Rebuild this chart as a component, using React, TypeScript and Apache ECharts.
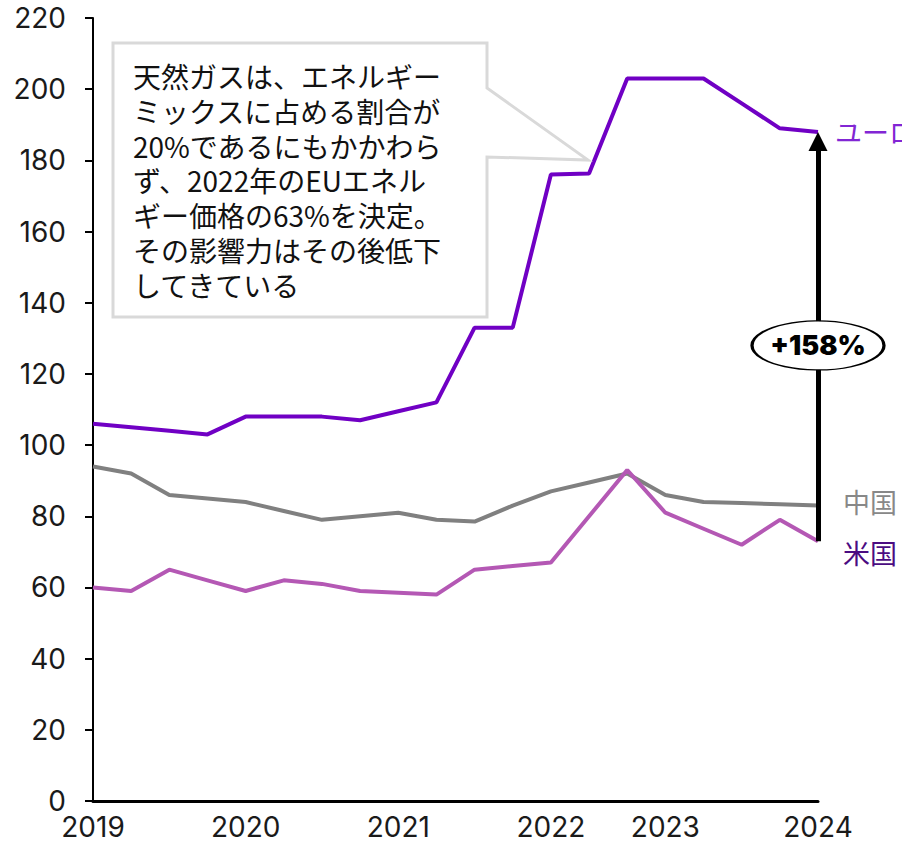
import React, { useEffect, useRef } from "react";
import * as echarts from "echarts";

// x categories (quarterly points); tick labels as drawn in the reference
const categories = ["2019", "", "", "", "2020", "", "", "", "2021", "", "", "", "2022", "", "", "2023", "", "", "", "2024"];
const euroValues = [106, 105, 104, 103, 108, 108, 108, 107, 109.5, 112, 133, 133, 176, 176.3, 203, 203, 203, 196, 189, 188];
const chinaValues = [94, 92, 86, 85, 84, 81.5, 79, 80, 81, 79, 78.5, 83, 87, 89.5, 92, 86, 84, 83.7, 83.4, 83];
const usValues = [60, 59, 65, 62, 59, 62, 61, 59, 58.5, 58, 65, 66, 67, 80, 93, 81, 76.5, 72, 79, 73];
const seriesNames = ["ユーロ圏", "中国", "米国"];
const badgeY = 128;
const calloutLines = [
  "天然ガスは、エネルギー",
  "ミックスに占める割合が",
  "20%であるにもかかわら",
  "ず、2022年のEUエネル",
  "ギー価格の63%を決定。",
  "その影響力はその後低下",
  "してきている",
];

const NUM_FONT = "Inter, 'Noto Sans', sans-serif";
const JP_FONT = "'Noto Sans CJK JP', 'Noto Sans', sans-serif";

export default function App() {
  const ref = useRef<HTMLDivElement>(null);
  useEffect(() => {
    if (!ref.current) return;
    const chart = echarts.init(ref.current, undefined, { renderer: "svg" });
    const last = categories.length - 1;
    const pct = Math.round(((euroValues[last] - usValues[last]) / usValues[last]) * 100);
    chart.setOption({
      animation: false,
      backgroundColor: "#ffffff",
      grid: { left: 93, right: 84, top: 18, bottom: 42 },
      xAxis: {
        type: "category",
        data: categories,
        boundaryGap: false,
        axisLine: { show: true, lineStyle: { color: "#000", width: 3 } },
        axisTick: { show: false },
        axisLabel: {
          interval: 0,
          margin: 12,
          fontSize: 28,
          fontFamily: NUM_FONT,
          color: "#1a1a1a",
        },
        splitLine: { show: false },
      },
      yAxis: {
        type: "value",
        min: 0,
        max: 220,
        interval: 20,
        axisLine: { show: true, lineStyle: { color: "#000", width: 2 } },
        axisTick: { show: true, length: 8, lineStyle: { color: "#000", width: 2 } },
        axisLabel: {
          margin: 27,
          fontSize: 28,
          fontFamily: NUM_FONT,
          color: "#1a1a1a",
        },
        splitLine: { show: false },
      },
      series: [
        {
          name: seriesNames[0],
          type: "line",
          data: euroValues,
          symbol: "none",
          z: 3,
          lineStyle: { color: "#7000C4", width: 4 },
          endLabel: {
            show: true,
            formatter: seriesNames[0],
            color: "#8226D4",
            fontSize: 27,
            fontFamily: JP_FONT,
            distance: 17,
          },
          markPoint: {
            z: 10,
            silent: true,
            symbol: "circle",
            symbolSize: [132, 49],
            itemStyle: { color: "#ffffff", borderColor: "#000", borderWidth: 2 },
            label: {
              show: true,
              position: "inside",
              formatter: "+" + pct + "%",
              color: "#000",
              fontSize: 27,
              fontWeight: 900,
              fontFamily: NUM_FONT,
            },
            data: [{ coord: [last, badgeY], value: pct }],
          },
        },
        {
          name: seriesNames[1],
          type: "line",
          data: chinaValues,
          symbol: "none",
          z: 2,
          lineStyle: { color: "#808080", width: 4 },
          endLabel: {
            show: true,
            formatter: seriesNames[1],
            color: "#888888",
            fontSize: 27,
            fontFamily: JP_FONT,
            distance: 25,
            offset: [0, -4],
          },
        },
        {
          name: seriesNames[2],
          type: "line",
          data: usValues,
          symbol: "none",
          z: 2,
          lineStyle: { color: "#B458B4", width: 4 },
          endLabel: {
            show: true,
            formatter: seriesNames[2],
            color: "#4B0C82",
            fontSize: 27,
            fontFamily: JP_FONT,
            distance: 25,
            offset: [0, 11],
          },
          markLine: {
            z: 6,
            silent: true,
            symbol: ["none", "none"],
            lineStyle: { color: "#000", width: 5, type: "solid" },
            label: { show: false },
            data: [[{ coord: [last, usValues[last]] }, { coord: [last, euroValues[last] - 3] }]],
          },
          markPoint: {
            z: 7,
            silent: true,
            symbol: "triangle",
            symbolSize: [19, 19],
            symbolOffset: [0, "50%"],
            itemStyle: { color: "#000" },
            label: { show: false },
            data: [{ coord: [last, euroValues[last]], value: euroValues[last] }],
          },
        },
      ],
      graphic: [
        {
          type: "polygon",
          z: 20,
          shape: {
            points: [
              [113, 43],
              [487, 43],
              [487, 88],
              [588, 160],
              [487, 157],
              [487, 317],
              [113, 317],
            ],
          },
          style: { fill: "#ffffff", stroke: "#D9D9D9", lineWidth: 3 },
        },
        {
          type: "text",
          z: 21,
          x: 133,
          y: 59,
          style: {
            text: calloutLines.join("\n"),
            font: "28px " + JP_FONT,
            lineHeight: 34.7,
            fill: "#111",
            verticalAlign: "top",
          },
        },
      ],
    });
    return () => chart.dispose();
  }, []);
  return (
    <div
      ref={ref}
      style={{ position: "absolute", left: 0, top: 0, width: 902, height: 843 }}
    />
  );
}
